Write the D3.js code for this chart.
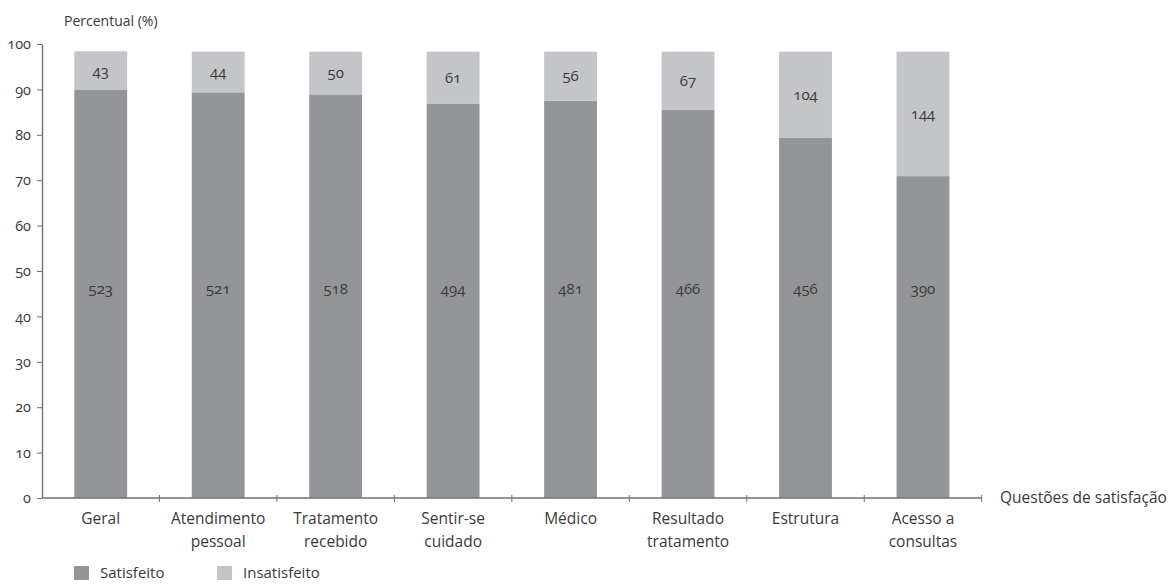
<!DOCTYPE html>
<html>
<head>
<meta charset="utf-8">
<script src="https://cdn.jsdelivr.net/npm/d3@7"></script>
<style>
  body { margin: 0; background: #fff; }
  svg text { font-family: "Open Sans", "Noto Sans", sans-serif; fill: #3a3a3a; font-variant-numeric: oldstyle-nums; font-feature-settings: "onum"; }
</style>
</head>
<body>
<div id="my_dataviz"></div>
<script>
// Categories (two-line labels) and values
var categories = ["Geral", "Atendimento pessoal", "Tratamento recebido", "Sentir-se cuidado",
                  "Médico", "Resultado tratamento", "Estrutura", "Acesso a consultas"];
var labelLines = [["Geral"], ["Atendimento", "pessoal"], ["Tratamento", "recebido"], ["Sentir-se", "cuidado"],
                  ["Médico"], ["Resultado", "tratamento"], ["Estrutura"], ["Acesso a", "consultas"]];
var satisfeitoPct = [90.0, 89.35, 88.9, 86.8, 87.5, 85.5, 79.4, 70.9];
var insatisfeitoPct = [8.4, 8.95, 9.4, 11.5, 10.8, 12.8, 18.9, 27.4];
var satisfeitoN = [523, 521, 518, 494, 481, 466, 456, 390];
var insatisfeitoN = [43, 44, 50, 61, 56, 67, 104, 144];
var yTicks = [0, 10, 20, 30, 40, 50, 60, 70, 80, 90, 100];

var colSat = "#939598", colIns = "#c4c5c8", axisCol = "#707070";

var svg = d3.select("#my_dataviz")
  .append("svg")
  .attr("width", 1174)
  .attr("height", 585);

// Scales
var x = d3.scaleBand()
  .domain(categories)
  .range([42, 981.7])
  .paddingInner(0.55)
  .paddingOuter(0.275);

var y = d3.scaleLinear()
  .domain([0, 100])
  .range([498, 44]);

var data = categories.map(function(c, i) {
  return { cat: c, lines: labelLines[i], sat: satisfeitoPct[i], ins: insatisfeitoPct[i],
           nSat: satisfeitoN[i], nIns: insatisfeitoN[i] };
});

// Bars
var bars = svg.append("g").selectAll("g")
  .data(data)
  .enter().append("g");

bars.append("rect")
  .attr("x", d => x(d.cat))
  .attr("width", x.bandwidth())
  .attr("y", d => y(d.sat))
  .attr("height", d => y(0) - y(d.sat))
  .style("fill", colSat);

bars.append("rect")
  .attr("x", d => x(d.cat))
  .attr("width", x.bandwidth())
  .attr("y", d => y(d.sat + d.ins))
  .attr("height", d => y(d.sat) - y(d.sat + d.ins))
  .style("fill", colIns);

// Counts inside the bars
bars.append("text")
  .attr("x", d => x(d.cat) + x.bandwidth() / 2)
  .attr("y", y(46))
  .attr("dy", "0.35em")
  .style("text-anchor", "middle")
  .style("font-size", "15px")
  .text(d => d.nSat);

bars.append("text")
  .attr("x", d => x(d.cat) + x.bandwidth() / 2)
  .attr("y", d => y(d.sat + d.ins / 2))
  .attr("dy", "0.35em")
  .style("text-anchor", "middle")
  .style("font-size", "15px")
  .text(d => d.nIns);

// Y axis
var yAxis = svg.append("g")
  .attr("transform", "translate(42,0)")
  .call(d3.axisLeft(y).tickValues(yTicks).tickSize(5).tickSizeOuter(0).tickPadding(6));
yAxis.select(".domain").attr("stroke", axisCol).attr("stroke-width", 1.4);
yAxis.selectAll(".tick line").attr("stroke", axisCol);
yAxis.selectAll(".tick text").style("font-size", "14.5px").attr("fill", "#3a3a3a");

svg.append("text")
  .attr("x", 64)
  .attr("y", 26)
  .style("font-size", "14px")
  .text("Percentual (%)");

// X axis line with boundary ticks
svg.append("line")
  .attr("x1", x.range()[0]).attr("x2", x.range()[1])
  .attr("y1", y(0)).attr("y2", y(0))
  .attr("stroke", axisCol).attr("stroke-width", 1.4);

svg.append("g").selectAll("line")
  .data(d3.range(1, categories.length + 1))
  .enter().append("line")
  .attr("x1", i => x.range()[0] + i * x.step())
  .attr("x2", i => x.range()[0] + i * x.step())
  .attr("y1", y(0) - 3)
  .attr("y2", y(0) + 4)
  .attr("stroke", axisCol);

// Category labels
var xl = svg.append("g").selectAll("text")
  .data(data)
  .enter().append("text")
  .attr("x", d => x(d.cat) + x.bandwidth() / 2)
  .attr("y", 524)
  .style("text-anchor", "middle")
  .style("font-size", "15.5px");
xl.selectAll("tspan")
  .data(d => d.lines.map(l => ({ l: l, x: x(d.cat) + x.bandwidth() / 2 })))
  .enter().append("tspan")
  .attr("x", t => t.x)
  .attr("dy", (t, i) => i === 0 ? 0 : 23)
  .text(t => t.l);

svg.append("text")
  .attr("x", 1000)
  .attr("y", 498)
  .attr("dy", "0.35em")
  .style("font-size", "15.5px")
  .text("Questões de satisfação");

// Legend
var legendItems = [{ name: "Satisfeito", col: colSat, x: 74 }, { name: "Insatisfeito", col: colIns, x: 217 }];
var legend = svg.selectAll(".legend")
  .data(legendItems)
  .enter().append("g")
  .attr("transform", d => "translate(" + d.x + ",566)");
legend.append("rect").attr("width", 15).attr("height", 14).style("fill", d => d.col);
legend.append("text").attr("x", 26).attr("y", 7).attr("dy", "0.32em")
  .style("font-size", "15px").text(d => d.name);
</script>
</body>
</html>
